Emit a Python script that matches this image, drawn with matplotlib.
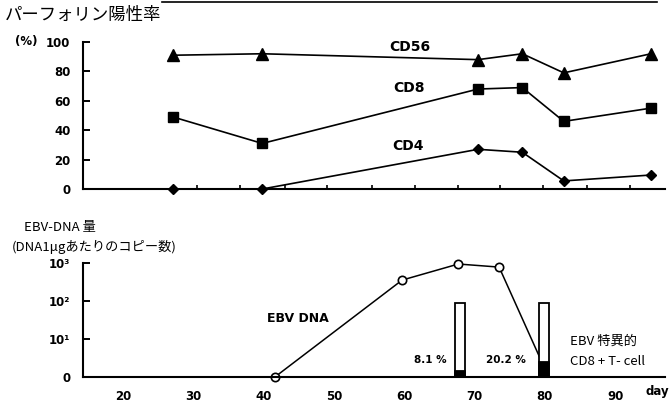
import matplotlib
matplotlib.use("Agg")
import matplotlib.pyplot as plt
from matplotlib.lines import Line2D

plt.rcParams['font.family'] = ['Noto Sans CJK JP', 'DejaVu Sans']

# perforin positive rate (%)
top_days = [27.1, 39.8, 70.5, 76.8, 82.7, 95.1]
cd56 = [91, 92, 88, 92, 79, 92]
cd8 = [49, 31, 68, 69, 46, 55]
cd4 = [0, 0, 27, 25, 5.5, 9.5]
top_ticks = [30.5, 36.6, 43.0, 49.0, 55.4, 61.5, 67.7, 73.6, 79.7, 86.0, 92.1]

# EBV-DNA copies per 1 ug DNA ("0" drawn at 10^0)
ebv_days = [41.6, 59.7, 67.7, 73.5, 79.8]
ebv_copies = [1, 355, 940, 780, 2.0]

# EBV specific CD8+ T cell (%)
bar_days = [67.9, 79.9]
bar_pct = [8.1, 20.2]
bar_labels = ['8.1 %', '20.2 %']
bar_label_days = [63.7, 74.5]

x_ticks = [20, 30, 40, 50, 60, 70, 80, 90]

W, H = 670, 408
fig = plt.figure(figsize=(W / 100, H / 100), dpi=100)

def fx(px):
    return px / W

def fy(py):
    return 1 - py / H

tick_font = dict(family='DejaVu Sans', weight='bold', size=8.5)
bold_lbl = dict(family='DejaVu Sans', fontweight='bold')

# 1. top panel
ax1 = fig.add_axes([fx(83), fy(189), fx(665) - fx(83), fy(42) - fy(189)])
ax1.plot(top_days, cd56, '-^', color='black', lw=1.2, ms=8)
ax1.plot(top_days, cd8, '-s', color='black', lw=1.2, ms=6.5)
ax1.plot(top_days, cd4, '-D', color='black', lw=1.2, ms=5.5, clip_on=False)
ax1.set_xlim(14.3, 97.1)
ax1.set_ylim(0, 100)
ax1.set_yticks([0, 20, 40, 60, 80, 100])
ax1.set_xticks(top_ticks)
ax1.set_xticklabels([])
ax1.tick_params(axis='y', direction='in', length=5, width=1.4, pad=9)
ax1.tick_params(axis='x', direction='in', length=3, width=1.2)
for lab in ax1.get_yticklabels():
    lab.set_fontproperties(tick_font)
for s in ['top', 'right']:
    ax1.spines[s].set_visible(False)
for s in ['left', 'bottom']:
    ax1.spines[s].set_linewidth(1.5)
ax1.text(60.8, 96.6, 'CD56', ha='center', va='center', fontsize=10, **bold_lbl)
ax1.text(60.7, 68.5, 'CD8', ha='center', va='center', fontsize=10, **bold_lbl)
ax1.text(60.6, 29.5, 'CD4', ha='center', va='center', fontsize=10, **bold_lbl)

# 2. bottom panel
ax2 = fig.add_axes([fx(83), fy(377), fx(665) - fx(83), fy(263) - fy(377)])
ax2.set_yscale('log')
ax2.plot(ebv_days, ebv_copies, '-o', color='black', lw=1.1, ms=6,
         mfc='white', mec='black', mew=1.2, clip_on=False)
ax2.set_xlim(14.3, 97.1)
ax2.set_ylim(1, 1000)
ax2.set_yticks([1, 10, 100, 1000])
ax2.set_yticklabels(['0', '10¹', '10²', '10³'])
ax2.minorticks_off()
ax2.set_xticks(x_ticks)
ax2.set_xticklabels([str(t) for t in x_ticks])
ax2.tick_params(axis='y', direction='in', length=5, width=1.4, pad=9)
ax2.tick_params(axis='x', length=0, pad=9)
for lab in ax2.get_yticklabels() + ax2.get_xticklabels():
    lab.set_fontproperties(tick_font)
for s in ['top', 'right']:
    ax2.spines[s].set_visible(False)
for s in ['left', 'bottom']:
    ax2.spines[s].set_linewidth(1.5)
ax2.text(44.9, 34, 'EBV DNA', ha='center', va='center', fontsize=9, **bold_lbl)
for d, t in zip(bar_label_days, bar_labels):
    ax2.text(d, 2.8, t, ha='center', va='center', fontsize=7.5, **bold_lbl)
ax2.text(83.6, 8.9, 'EBV 特異的', ha='left', va='center', fontsize=9.5)
ax2.text(83.6, 2.6, 'CD8 + T- cell', ha='left', va='center', fontsize=9.5)

# 3. bars of EBV specific CD8+ T cells (full box = 100 %)
ax3 = ax2.twinx()
ax3.set_ylim(0, 154)
ax3.bar(bar_days, [100] * len(bar_days), width=1.45, color='white', edgecolor='black', lw=1.3)
ax3.bar(bar_days, bar_pct, width=1.45, color='black', edgecolor='black', lw=1.3)
ax3.set_yticks([])
for s in ax3.spines.values():
    s.set_visible(False)

# titles
fig.text(fx(5), fy(15), 'パーフォリン陽性率', ha='left', va='center', fontsize=12.5)
fig.text(fx(15), fy(42), '(%)', ha='left', va='center', fontsize=8.5, **bold_lbl)
fig.text(fx(24), fy(227), 'EBV-DNA 量', ha='left', va='center', fontsize=9.5)
fig.text(fx(12), fy(247), '(DNA1μgあたりのコピー数)', ha='left', va='center', fontsize=9.5)
fig.text(fx(657), fy(392), 'day', ha='center', va='center', **tick_font)
fig.add_artist(Line2D([fx(162), fx(657)], [fy(2), fy(2)], color='black', lw=1.2))

fig.savefig('out.png', dpi=100)
